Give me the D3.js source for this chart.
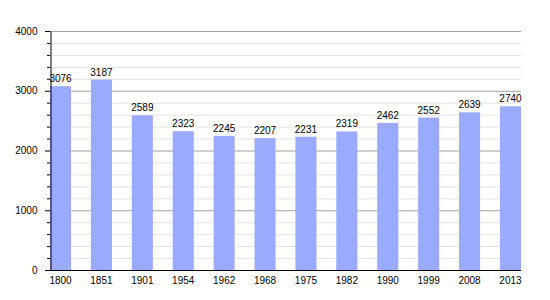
<!DOCTYPE html>
<html>
<head>
<meta charset="utf-8">
<script src="https://cdn.jsdelivr.net/npm/d3@7"></script>
<style>
body{margin:0;background:#fff;}
text{font-family:"Liberation Sans",Arial,sans-serif;font-size:10px;fill:#000;}
</style>
</head>
<body>
<svg id="chart" width="550" height="300"></svg>
<script>
const years = ["1800","1851","1901","1954","1962","1968","1975","1982","1990","1999","2008","2013"];
const population = [3076,3187,2589,2323,2245,2207,2231,2319,2462,2552,2639,2740];
const yTicks = [0,1000,2000,3000,4000];

(function(){
const svg = d3.select("#chart");
const mLeft = 50, mRight = 521, mTop = 31, mBottom = 270;

const x = d3.scaleBand().domain(years).range([mLeft, mRight]).paddingInner(0.485).paddingOuter(0);
const y = d3.scaleLinear().domain([0,4000]).range([mBottom, mTop]);

const minor = d3.range(0, 4001, 200);

// grid
svg.append("g").selectAll("line").data(minor).join("line")
  .attr("x1", mLeft).attr("x2", mRight)
  .attr("y1", d=>y(d)+0.5).attr("y2", d=>y(d)+0.5)
  .attr("stroke", d=> d%1000===0 ? "#a0a0a0" : "#e2e2e2")
  .attr("stroke-width", 1);

// bars
svg.append("g").selectAll("rect").data(population).join("rect")
  .attr("x", (d,i)=>x(years[i]))
  .attr("width", x.bandwidth())
  .attr("y", d=>y(d))
  .attr("height", d=>mBottom - y(d))
  .attr("fill", "#99aaff");

// value labels
svg.append("g").selectAll("text").data(population).join("text")
  .attr("x", (d,i)=>x(years[i]) + x.bandwidth()/2)
  .attr("y", d=>y(d) - 4)
  .attr("text-anchor","middle")
  .text(d=>d);

// y axis minor ticks
svg.append("g").selectAll("line").data(minor).join("line")
  .attr("x1", d=> d%1000===0 ? mLeft-5 : mLeft-3).attr("x2", mLeft)
  .attr("y1", d=>y(d)+0.5).attr("y2", d=>y(d)+0.5)
  .attr("stroke","#000");

// y axis
const yAxis = d3.axisLeft(y).tickValues(yTicks).tickSize(0).tickPadding(13).tickFormat(d3.format("d"));
const gy = svg.append("g").attr("transform",`translate(${mLeft+0.5},0)`).call(yAxis);
gy.select(".domain").attr("stroke","#000");
gy.selectAll("text").style("font-size","10px").style("font-family","Liberation Sans, Arial, sans-serif");

// x axis
const xAxis = d3.axisBottom(x).tickSize(0).tickPadding(6);
const gx = svg.append("g").attr("transform",`translate(0,${mBottom+0.5})`).call(xAxis);
gx.select(".domain").attr("stroke","#000").attr("d",`M${mLeft},0H${mRight}`);
gx.selectAll("text").style("font-size","10px").style("font-family","Liberation Sans, Arial, sans-serif");
})();
</script>
</body>
</html>
